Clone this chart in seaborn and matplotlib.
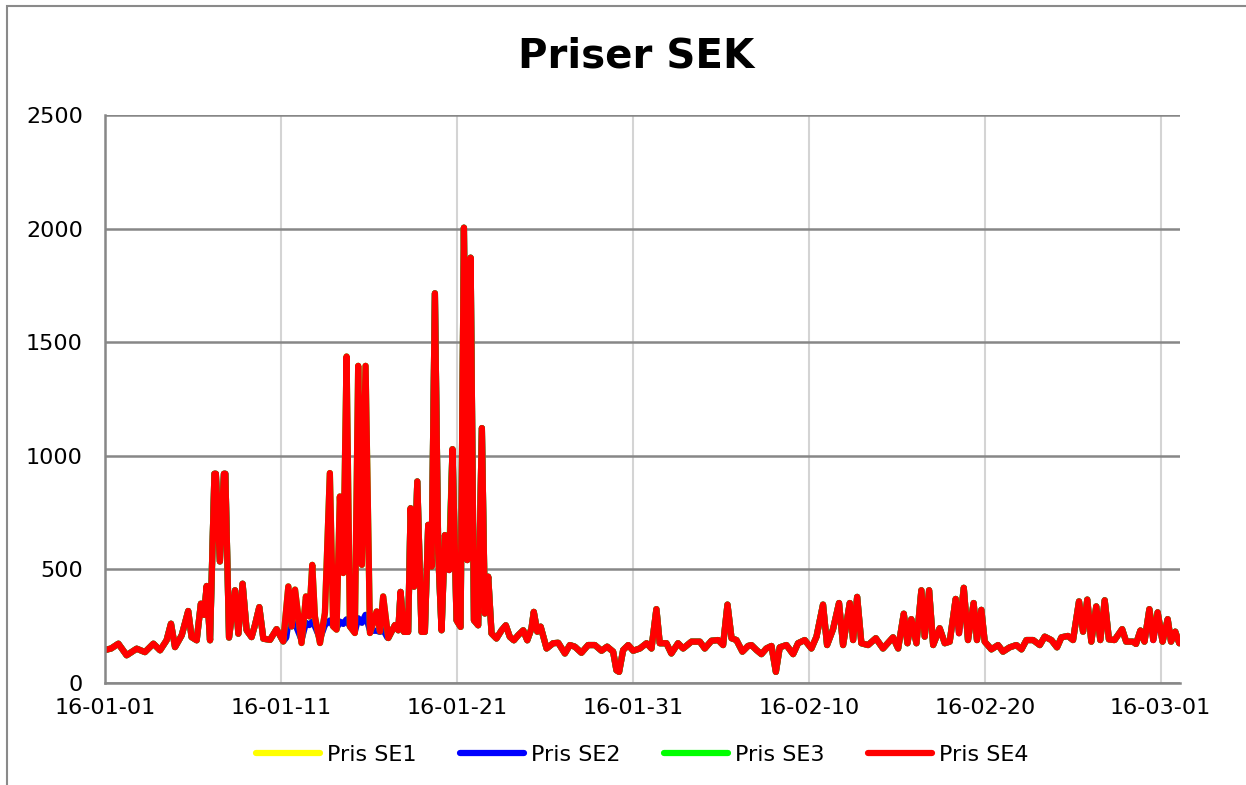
import matplotlib
matplotlib.use("Agg")
import matplotlib.pyplot as plt
import matplotlib.dates as mdates
from matplotlib.lines import Line2D
from matplotlib.patches import Rectangle
import seaborn as sns
import pandas as pd

# days since 2016-01-01 00:00 and SE4 price (SEK/MWh)
days = [
    0.0, 0.35, 0.76, 1.23, 1.8, 2.27, 2.75, 3.13, 3.5, 3.75, 3.98, 4.36, 4.73, 4.92,
    5.21, 5.45, 5.63, 5.78, 5.97, 6.22, 6.30, 6.53, 6.76, 6.84, 7.05, 7.39, 7.58, 7.82,
    8.05, 8.33, 8.52, 8.77, 9.00, 9.38, 9.75, 10.13, 10.42, 10.61, 10.80, 11.17, 11.42,
    11.61, 11.78, 11.93, 12.22, 12.50, 12.78, 12.97, 13.16, 13.35, 13.54, 13.73, 13.92,
    14.20, 14.39, 14.60, 14.81, 15.06, 15.44, 15.63, 15.81, 16.10, 16.48, 16.67, 16.80,
    16.99, 17.23, 17.37, 17.56, 17.75, 17.99, 18.18, 18.37, 18.56, 18.75, 18.94, 19.13,
    19.32, 19.56, 19.75, 19.98, 20.21, 20.40, 20.59, 20.78, 20.97, 21.21, 21.42, 21.59,
    21.78, 21.97, 22.25, 22.54, 22.78, 23.01, 23.24, 23.48, 23.77, 24.0, 24.24, 24.37,
    24.57, 24.76, 25.1, 25.47, 25.76, 26.14, 26.42, 26.7, 27.08, 27.46, 27.84, 28.22,
    28.54, 28.88, 29.07, 29.22, 29.45, 29.74, 30.02, 30.4, 30.78, 31.06, 31.34, 31.53,
    31.91, 32.19, 32.57, 32.86, 33.33, 33.81, 34.09, 34.47, 34.85, 35.13, 35.38, 35.61,
    35.89, 36.23, 36.55, 36.74, 37.03, 37.31, 37.59, 37.88, 38.13, 38.35, 38.73, 39.11,
    39.39, 39.77, 40.15, 40.44, 40.81, 41.04, 41.38, 41.72, 41.95, 42.33, 42.52, 42.75,
    42.99, 43.37, 43.81, 44.22, 44.79, 45.08, 45.40, 45.61, 45.83, 46.12, 46.40, 46.59,
    46.84, 47.07, 47.44, 47.73, 48.01, 48.35, 48.54, 48.81, 49.05, 49.37, 49.56, 49.81,
    50.0, 50.38, 50.76, 51.04, 51.42, 51.8, 52.09, 52.37, 52.75, 53.13, 53.41, 53.79,
    54.11, 54.36, 54.73, 55.02, 55.36, 55.59, 55.83, 56.06, 56.34, 56.57, 56.82, 57.06,
    57.38, 57.81, 58.04, 58.42, 58.60, 58.85, 59.08, 59.36, 59.58, 59.83, 60.11, 60.40,
    60.59, 60.83, 61.06,
]
se4 = [
    145, 152, 173, 122, 151, 136, 173, 144, 188, 261, 158, 210, 317, 202,
    188, 349, 300, 427, 188, 921, 921, 535, 921, 921, 200, 408, 217, 437,
    232, 202, 254, 334, 195, 190, 237, 183, 425, 249, 411, 176, 381,
    293, 520, 293, 176, 308, 924, 249, 235, 821, 484, 1437, 249,
    220, 1396, 520, 1396, 220, 315, 227, 381, 198, 255, 232, 401,
    225, 225, 769, 424, 887, 225, 225, 696, 512, 1715, 571, 232,
    651, 497, 1029, 276, 247, 2004, 541, 1872, 276, 254, 1122, 306,
    468, 218, 196, 232, 254, 203, 188, 210, 232, 188, 240, 313,
    226, 248, 152, 175, 177, 130, 167, 160, 133, 167, 167, 142,
    160, 138, 56, 49, 145, 167, 142, 152, 175, 152, 325, 175,
    175, 130, 175, 152, 182, 182, 152, 186, 189, 167, 345, 197,
    189, 138, 163, 167, 145, 127, 152, 163, 49, 157, 167, 127,
    175, 189, 152, 204, 345, 167, 237, 352, 167, 352, 189, 379,
    175, 167, 197, 152, 201, 152, 305, 175, 281, 175, 408, 204,
    408, 167, 241, 175, 182, 370, 219, 419, 189, 352, 189, 322,
    182, 148, 167, 138, 157, 167, 148, 189, 189, 167, 204, 189,
    157, 201, 207, 189, 359, 226, 367, 182, 337, 189, 364, 192,
    189, 237, 182, 182, 172, 231, 182, 325, 189, 311, 182, 281,
    182, 226, 175,
]

# SE2 (and SE1) differ from SE4 in mid January only
se2_days = [10.3, 10.42, 10.61, 10.80, 11.17, 11.42, 11.61, 11.78, 11.93, 12.22, 12.50,
            12.78, 12.97, 13.16, 13.35, 13.54, 13.73, 13.92, 14.20, 14.39, 14.60, 14.81,
            15.06, 15.44, 15.63, 15.81, 16.05]
se2_vals = [200, 265, 250, 262, 190, 265, 255, 270, 250, 195, 255,
            275, 250, 240, 270, 260, 280, 250, 225, 285, 265, 300,
            230, 230, 225, 235, 200]

# SE3 points that differ from SE4
se3_days = [19.56, 48.54, 59.58]
se3_vals = [560, 240, 215]

series_names = ["Pris SE1", "Pris SE2", "Pris SE3", "Pris SE4"]
series_colors = ["#ffff00", "#0000ff", "#00ff00", "#ff0000"]
tick_dates = ["2016-01-01", "2016-01-11", "2016-01-21", "2016-01-31",
              "2016-02-10", "2016-02-20", "2016-03-01"]

start = pd.Timestamp("2016-01-01")

se4_df = pd.DataFrame({"day": days, "Pris": se4})
se2_df = pd.concat([
    se4_df[(se4_df["day"] < 10.3) | (se4_df["day"] > 16.05)],
    pd.DataFrame({"day": se2_days, "Pris": se2_vals}),
]).sort_values("day")
se3_df = se4_df.copy()
for d, v in zip(se3_days, se3_vals):
    se3_df.loc[se3_df["day"] == d, "Pris"] = v

frames = []
for name, part in zip(series_names, [se2_df, se2_df, se3_df, se4_df]):
    part = part.copy()
    part["Serie"] = name
    frames.append(part)
df = pd.concat(frames, ignore_index=True)
df["Tid"] = start + pd.to_timedelta(df["day"], unit="D")

sns.set_style("white")
plt.rcParams["font.family"] = ["DejaVu Sans"]
plt.rcParams["text.color"] = "black"

fig = plt.figure(figsize=(12.46, 7.85), dpi=100)
ax = fig.add_axes([105 / 1246, 1 - 683 / 785, (1180 - 105) / 1246, (683 - 115) / 785])

sns.lineplot(data=df, x="Tid", y="Pris", hue="Serie", hue_order=series_names,
             palette=series_colors, estimator=None, linewidth=4.5, legend=False, ax=ax)

ax.set_ylim(0, 2500)
ax.set_yticks(range(0, 2501, 500))
ax.set_xlim(start, start + pd.Timedelta(days=61.1))
ax.set_xticks(pd.to_datetime(tick_dates))
ax.xaxis.set_major_formatter(mdates.DateFormatter("%y-%m-%d"))
ax.set_xlabel("")
ax.set_ylabel("")

ax.grid(axis="y", color="#878787", linewidth=1.8)
ax.grid(axis="x", color="#d4d4d4", linewidth=1.5)
ax.set_axisbelow(True)
for side in ["top", "right"]:
    ax.spines[side].set_visible(False)
for side in ["left", "bottom"]:
    ax.spines[side].set_color("#878787")
    ax.spines[side].set_linewidth(1.8)
ax.tick_params(axis="both", direction="out", length=5, width=1.5, color="#878787",
               labelsize=16, labelcolor="black")
ax.tick_params(axis="y", pad=11)
ax.tick_params(axis="x", pad=5.5)

fig.text(636 / 1246, 1 - 57 / 785, "Priser SEK", ha="center", va="center",
         fontsize=29, fontweight="bold", color="black", family=["DejaVu Sans"])

handles = [Line2D([0], [0], color=c, linewidth=4.5) for c in series_colors]
fig.legend(handles, series_names, loc="center", bbox_to_anchor=(642 / 1246, 1 - 755 / 785),
           ncol=4, frameon=False, fontsize=16, handlelength=2.9, handletextpad=0.3,
           columnspacing=1.95)

fig.patches.append(Rectangle((7 / 1246, -0.05), 1.1, 1 - 6 / 785 + 0.05,
                             transform=fig.transFigure, fill=False,
                             edgecolor="#8a8a8a", linewidth=1.5, clip_on=False))

fig.savefig("out.png", dpi=100)
plt.close(fig)
